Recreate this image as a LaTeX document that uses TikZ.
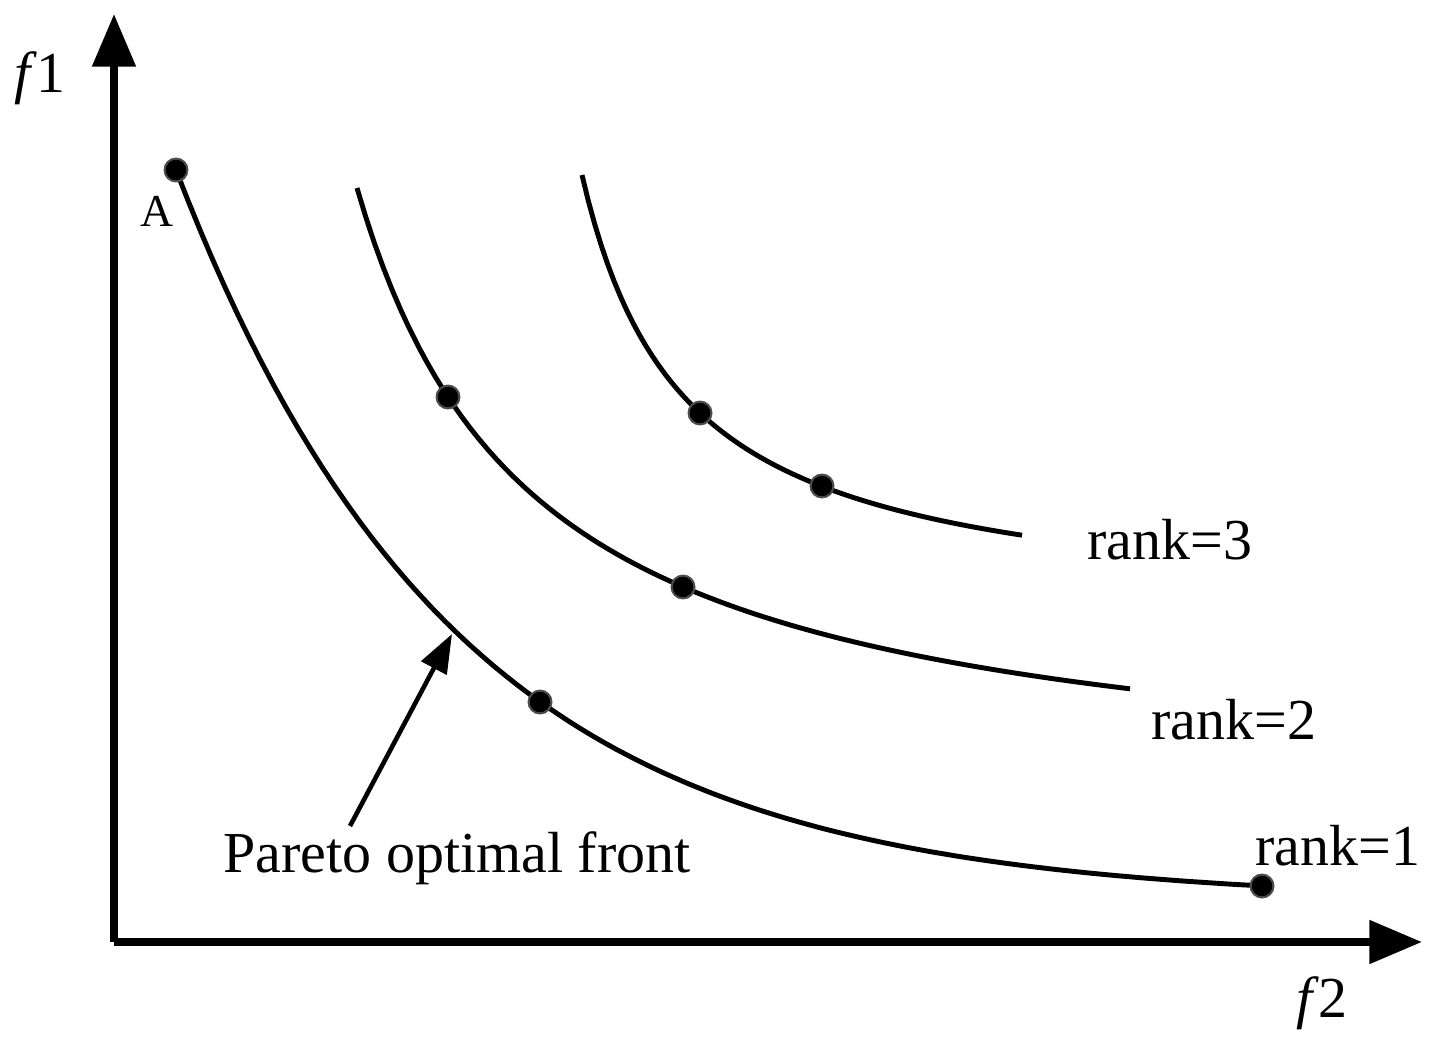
\documentclass[tikz,border=0pt]{standalone}
\usepackage{fontspec}
\setmainfont{Liberation Serif}
\usetikzlibrary{arrows.meta}
\begin{document}
\begin{tikzpicture}[x=0.02cm,y=-0.02cm,>={Triangle[length=30pt,width=24pt]},
  curve/.style={line width=2.8pt},
  pt/.style={circle,fill=black,draw=black!70,line width=1.2pt,minimum size=13pt,inner sep=0pt},
  lab/.style={font=\fontsize{33}{40}\selectfont,inner sep=0pt}]
    \useasboundingbox (0,0) rectangle (1430,1044);
    % axes
    \coordinate (o) at (114,942);
    \coordinate (ytip) at (114,14);
    \coordinate (xtip) at (1422,942);
    \draw[->,line width=4.5pt] (o) -- (ytip);
    \draw[->,line width=4.5pt] (o) -- (xtip);
    \node[lab] (f1) at (40,78) {\textit{f}1};
    \node[lab] (f2) at (1322,1003) {\textit{f}2};

    % fronts
    \draw[curve] plot[domain=176:1262,samples=90] (\x,{901-731*exp(-(\x-176)/280)});
    \draw[curve] plot[domain=357:1130,samples=90] (\x,{803.5-1089.5*(100/(\x-180))});
    \draw[curve] plot[domain=582:1022,samples=70] (\x,{618.7-452.56*(100/(\x-480))});

    % points
    \node[pt] (a) at (176,170) {};
    \node[pt] (p1) at (540,702) {};
    \node[pt] (p2) at (1262,886) {};
    \node[pt] (q1) at (448,397) {};
    \node[pt] (q2) at (683,587) {};
    \node[pt] (r1) at (700,413) {};
    \node[pt] (r2) at (822,486) {};
    \node[font=\fontsize{26}{30}\selectfont,inner sep=0pt] (alab) at (157,211) {A};

    % labels
    \node[lab] (rk3) at (1170,540) {rank=3};
    \node[lab] (rk2) at (1234,720) {rank=2};
    \node[lab] (rk1) at (1338,846) {rank=1};
    \node[lab] (pof) at (457,858) {Pareto optimal front};
    \coordinate (tip) at (452,634);
    \coordinate (tail) at (350,826);
    \draw[->,line width=2.6pt,>={Triangle[length=22pt,width=16pt]}] (tail) -- (tip);
\end{tikzpicture}
\end{document}
